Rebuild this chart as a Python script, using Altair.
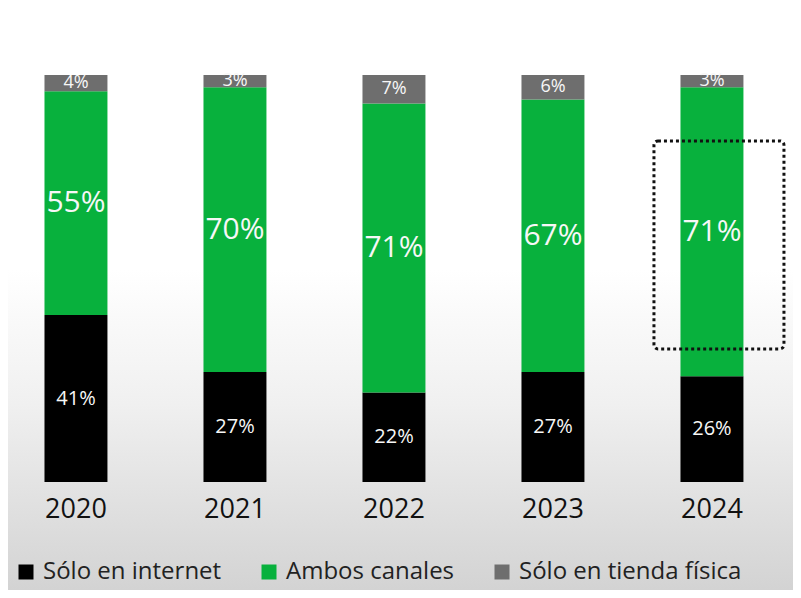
import altair as alt
import pandas as pd

years = ["2020", "2021", "2022", "2023", "2024"]
internet = [41, 27, 22, 27, 26]
ambos = [55, 70, 71, 67, 71]
tienda = [4, 3, 7, 6, 3]
channels = ["Sólo en internet", "Ambos canales", "Sólo en tienda física"]
colors = ["#000000", "#08B13D", "#6E6E6E"]
label_sizes = [20, 30, 18]

# highlight box around the 2024 "Ambos canales" value (in % units)
box_year = ["2024"]
box_lo = [32.7]
box_hi = [83.8]

rows = []
for i, y in enumerate(years):
    for k, (ch, vals) in enumerate(zip(channels, [internet, ambos, tienda])):
        rows.append({"year": y, "channel": ch, "value": vals[i], "ord": k})
df = pd.DataFrame(rows)

FONT = "Open Sans"
W, H = 785, 582

xscale = alt.Scale(domain=years, paddingInner=0.604, paddingOuter=0.2706, align=0.424)
yscale = alt.Scale(domain=[-26.54, 116.46], nice=False, zero=False)

bg = alt.Chart(pd.DataFrame({"a": [0]})).mark_rect(
    fill=alt.LinearGradient(
        gradient="linear", x1=0, x2=0, y1=0, y2=1,
        stops=[
            alt.GradientStop(color="#ffffff", offset=0),
            alt.GradientStop(color="#ffffff", offset=0.45),
            alt.GradientStop(color="#f0f0f0", offset=0.68),
            alt.GradientStop(color="#d3d3d3", offset=1),
        ],
    )
).encode(x=alt.value(0), x2=alt.value("width"), y=alt.value(0), y2=alt.value("height"))

base = alt.Chart(df).transform_stack(
    stack="value", groupby=["year"], as_=["v0", "v1"],
    sort=[alt.SortField("ord", order="ascending")],
)

bars = base.mark_bar().encode(
    x=alt.X("year:N", scale=xscale, axis=alt.Axis(
        orient="bottom", offset=-108, labelAngle=0, domain=False, ticks=False,
        labelPadding=14, labelFontSize=27, labelFont=FONT, labelColor="#111111",
        title=None, grid=False, zindex=1)),
    y=alt.Y("v0:Q", scale=yscale, axis=None),
    y2="v1:Q",
    color=alt.Color("channel:N", scale=alt.Scale(domain=channels, range=colors),
                    legend=alt.Legend(
                        orient="none", legendX=6, legendY=552, direction="horizontal",
                        title=None, symbolType="square", symbolSize=225,
                        symbolStrokeWidth=0, labelFontSize=24, labelFont=FONT,
                        labelColor="#222222", columnPadding=35, labelOffset=5,
                        labelLimit=400, padding=0, zindex=1)),
)

text_layers = []
for ch, fs in zip(channels, label_sizes):
    text_layers.append(
        base.transform_calculate(
            mid="(datum.v0 + datum.v1) / 2", label="datum.value + '%'"
        ).transform_filter(alt.datum.channel == ch)
        .mark_text(color="#f7f7f7", font=FONT, baseline="middle", align="center", fontSize=fs)
        .encode(
            x=alt.X("year:N", scale=xscale),
            y=alt.Y("mid:Q", scale=yscale),
            text="label:N",
        )
    )

box = alt.Chart(pd.DataFrame({"year": box_year, "lo": box_lo, "hi": box_hi})).mark_bar(
    fill=None, fillOpacity=0, stroke="#111111", strokeWidth=3, strokeDash=[3, 3],
    width=130, xOffset=7, cornerRadius=4,
).encode(
    x=alt.X("year:N", scale=xscale),
    y=alt.Y("lo:Q", scale=yscale),
    y2="hi:Q",
)

chart = alt.layer(bg, bars, *text_layers, box).properties(
    width=W, height=H, padding=0, autosize=alt.AutoSizeParams(type="none"),
    background="#ffffff",
).configure_view(stroke=None)

chart.save("out.html", embed_options={"renderer": "svg", "actions": False})
